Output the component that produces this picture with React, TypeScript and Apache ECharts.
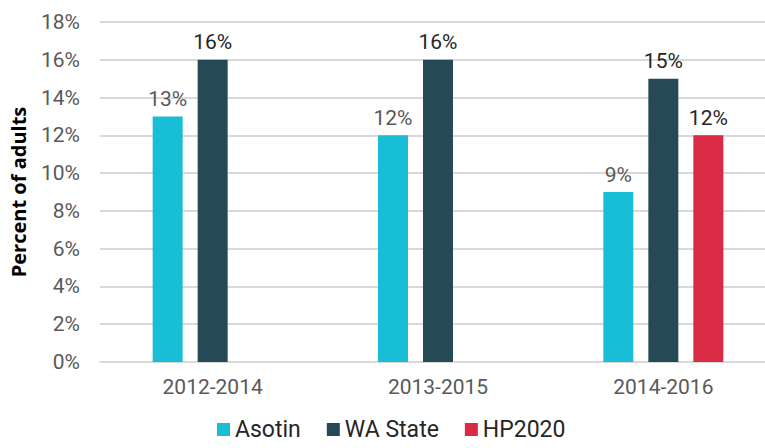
import React, { useEffect, useRef } from "react";
import * as echarts from "echarts";

const categories = ["2012-2014", "2013-2015", "2014-2016"];
const asotin = [13, 12, 9];
const waState = [16, 16, 15];
const hp2020: (number | null)[] = [null, null, 12];
const seriesNames = ["Asotin", "WA State", "HP2020"];
const colors = ["#17BED5", "#264A55", "#D92B45"];
const labelColors = ["#595959", "#262626", "#262626"];

export default function App() {
  const ref = useRef<HTMLDivElement>(null);
  useEffect(() => {
    if (!ref.current) return;
    const chart = echarts.init(ref.current, null, { renderer: "svg" });
    const data = [asotin, waState, hp2020];
    chart.setOption({
      animation: false,
      textStyle: { fontFamily: "Roboto" },
      grid: { left: 100, width: 676, top: 22, bottom: 86, containLabel: false, outerBoundsMode: "none" },
      legend: {
        bottom: 2,
        left: 212,
        itemWidth: 13,
        itemHeight: 13,
        itemGap: 26,
        icon: "rect",
        textStyle: { fontSize: 23, color: "#262626", fontFamily: "Roboto" },
        data: seriesNames,
      },
      xAxis: {
        type: "category",
        data: categories,
        axisLine: { lineStyle: { color: "#D9D9D9", width: 2 } },
        axisTick: { show: false },
        axisLabel: { fontSize: 21, color: "#595959", margin: 14 },
      },
      yAxis: {
        type: "value",
        min: 0,
        max: 18,
        interval: 2,
        name: "Percent of adults",
        nameLocation: "middle",
        nameGap: 72,
        nameTextStyle: { fontSize: 20, fontWeight: "bold", color: "#000", fontFamily: "Open Sans" },
        axisLine: { show: false },
        axisTick: { show: false },
        splitLine: { lineStyle: { color: "#D9D9D9", width: 2 } },
        axisLabel: { fontSize: 21, color: "#595959", margin: 20, formatter: (v: number) => v + "%" },
      },
      series: seriesNames.map((n, i) => ({
        name: n,
        type: "bar",
        data: data[i],
        barWidth: 30,
        barGap: "50%",
        itemStyle: { color: colors[i] },
        label: {
          show: true,
          position: "top",
          distance: 7,
          fontSize: 21,
          color: labelColors[i],
          formatter: (p: any) => p.value + "%",
        },
      })),
    });
    return () => chart.dispose();
  }, []);
  return <div ref={ref} style={{ width: 765, height: 448, position: "absolute", left: 0, top: 0 }} />;
}
